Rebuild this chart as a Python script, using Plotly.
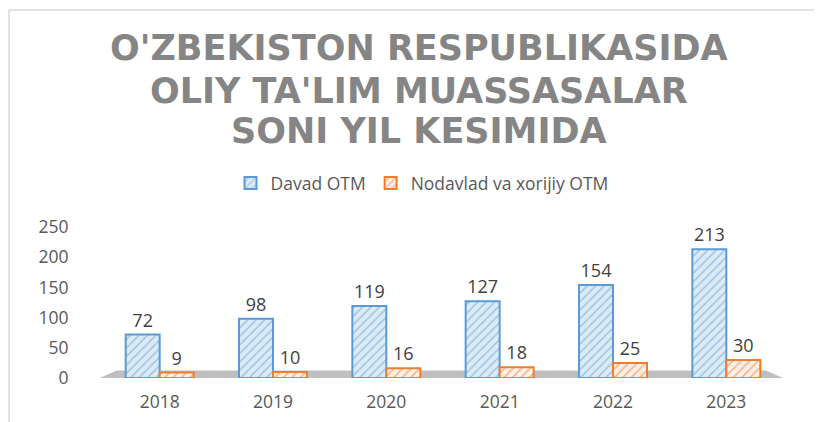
import plotly.graph_objects as go

years = ["2018", "2019", "2020", "2021", "2022", "2023"]
davlat = [72, 98, 119, 127, 154, 213]
nodavlat = [9, 10, 16, 18, 25, 30]
series_names = ["Davad OTM", "Nodavlad va xorijiy OTM"]
title_lines = ["O'ZBEKISTON RESPUBLIKASIDA", "OLIY TA'LIM MUASSASALAR", "SONI YIL KESIMIDA"]
y_ticks = [0, 50, 100, 150, 200, 250]

FONT = "Open Sans"
# page body has an 8px default margin; figure is sized/placed to compensate
W, H = 814, 414
L, R, T, B = 95, 39, 219, 44
PH = H - T - B


def py(px):  # paper-pixel (from top) -> plot-relative paper y
    return (H - B - px) / PH


def pxx(px):
    return (px - L) / (W - L - R)


fig = go.Figure()
fig.add_trace(go.Bar(
    x=years, y=davlat, name=series_names[0],
    marker=dict(color="#DDEBF7", line=dict(color="#5B9BD5", width=2),
                pattern=dict(shape="/", fgcolor="#5B9BD5", bgcolor="#DDEBF7", size=6, solidity=0.25)),
    text=davlat, textposition="outside", cliponaxis=False,
    textfont=dict(size=18, color="#404040", family=FONT),
))
fig.add_trace(go.Bar(
    x=years, y=nodavlat, name=series_names[1],
    marker=dict(color="#FCE4D6", line=dict(color="#ED7D31", width=2),
                pattern=dict(shape="/", fgcolor="#ED7D31", bgcolor="#FDF0E8", size=6, solidity=0.3)),
    text=nodavlat, textposition="outside", cliponaxis=False,
    textfont=dict(size=18, color="#404040", family=FONT),
))

# floor (decorative)
fig.add_shape(type="path", xref="paper", yref="paper",
              path="M -0.005 0 L 1.0 0 L 0.975 0.05 L 0.02 0.05 Z",
              fillcolor="#BFBFBF", line=dict(width=0), layer="below")
# chart border
fig.add_shape(type="rect", xref="paper", yref="paper",
              x0=pxx(1), x1=1.3, y0=-0.6, y1=py(2),
              line=dict(color="#D9D9D9", width=1.5), fillcolor="rgba(0,0,0,0)", layer="below")

for line, ypix in zip(title_lines, [40, 83, 123]):
    fig.add_annotation(text=line, xref="paper", yref="paper", x=pxx(411), y=py(ypix),
                       xanchor="center", yanchor="middle", showarrow=False,
                       font=dict(family="DejaVu Sans", size=35, color="#858585", weight="bold"))

fig.update_layout(
    width=W, height=H,
    paper_bgcolor="white", plot_bgcolor="white",
    margin=dict(l=L, r=R, t=T, b=B, autoexpand=False),
    barmode="group", bargap=0.4, bargroupgap=0,
    font=dict(family=FONT, color="#595959"),
    legend=dict(orientation="h", x=pxx(414), xanchor="center", y=py(175), yanchor="middle",
                font=dict(size=17.5, color="#595959", family=FONT),
                itemwidth=30, traceorder="normal"),
    xaxis=dict(showgrid=False, showline=False, ticks="outside", ticklen=8, automargin=False,
               tickcolor="rgba(0,0,0,0)", tickfont=dict(size=17.5, color="#595959")),
    yaxis=dict(range=[0, 250], tickvals=y_ticks, showgrid=False, zeroline=False, automargin=False,
               showline=False, ticks="outside", ticklen=30, tickcolor="rgba(0,0,0,0)",
               tickfont=dict(size=17.5, color="#595959")),
)
fig.write_html("out.html")
